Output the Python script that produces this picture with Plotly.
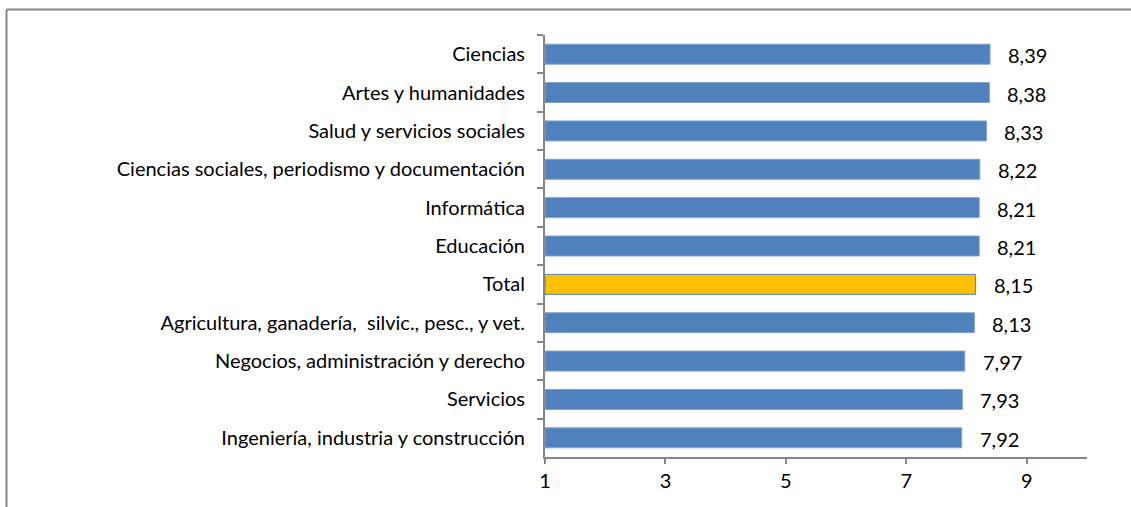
import plotly.graph_objects as go

categories = [
    "Ciencias",
    "Artes y humanidades",
    "Salud y servicios sociales",
    "Ciencias sociales, periodismo y documentación",
    "Informática",
    "Educación",
    "Total",
    "Agricultura, ganadería,  silvic., pesc., y vet.",
    "Negocios, administración y derecho",
    "Servicios",
    "Ingeniería, industria y construcción",
]
values = [8.39, 8.38, 8.33, 8.22, 8.21, 8.21, 8.15, 8.13, 7.97, 7.93, 7.92]
highlight = "Total"
x_ticks = [1, 3, 5, 7, 9]

BLUE = "#4F81BD"
GOLD = "#FFC000"
AX = "#868686"
FONT = "Lato"
FS = 20

colors = [GOLD if c == highlight else BLUE for c in categories]
edge = [BLUE if c == highlight else "#7FA3D1" for c in categories]
labels = [f"{v:.2f}".replace(".", ",") for v in values]

fig = go.Figure()
fig.add_trace(go.Bar(
    y=categories, x=[v - 1 for v in values], base=1, orientation="h",
    marker=dict(color=colors, line=dict(color=edge, width=1)),
    width=0.52, hoverinfo="skip",
))

for c, v, t in zip(categories, values, labels):
    fig.add_annotation(x=v, y=c, text=t, showarrow=False, xanchor="left",
                       xshift=16, yshift=-1, font=dict(family=FONT, size=FS, color="#000"))

W, H = 1131, 507
L, R, T, B = 545, 44, 35, 50
pw, ph = W - L - R, H - T - B

def px(x):
    return (x - L) / pw

def py(y):
    return (H - B - y) / ph

fig.add_shape(type="line", xref="paper", yref="paper",
              x0=px(6.5), x1=px(1140), y0=py(9.5), y1=py(9.5),
              line=dict(color=AX, width=2))
fig.add_shape(type="line", xref="paper", yref="paper",
              x0=px(6.5), x1=px(6.5), y0=py(9.5), y1=py(520),
              line=dict(color=AX, width=2))

fig.update_layout(
    width=W, height=H,
    margin=dict(l=L, r=R, t=T, b=B, pad=0),
    paper_bgcolor="white", plot_bgcolor="white",
    showlegend=False,
    font=dict(family=FONT, size=FS, color="#000"),
    xaxis=dict(range=[1, 10], tickvals=x_ticks, ticktext=[str(t) for t in x_ticks],
               showgrid=False, zeroline=False, showline=True, linecolor=AX, linewidth=2,
               ticks="outside", ticklen=5, tickcolor=AX, tickwidth=2,
               ticklabelstandoff=0,
               tickfont=dict(family=FONT, size=FS, color="#000")),
    yaxis=dict(autorange="reversed", type="category", showgrid=False, zeroline=False,
               showline=True, linecolor=AX, linewidth=2,
               ticks="outside", ticklen=6, tickcolor=AX, tickwidth=2, tickson="boundaries",
               ticklabelstandoff=14,
               tickfont=dict(family=FONT, size=FS, color="#000")),
)
fig.write_html("out.html", config={"displayModeBar": False},
               post_script="document.body.style.margin='0';")
